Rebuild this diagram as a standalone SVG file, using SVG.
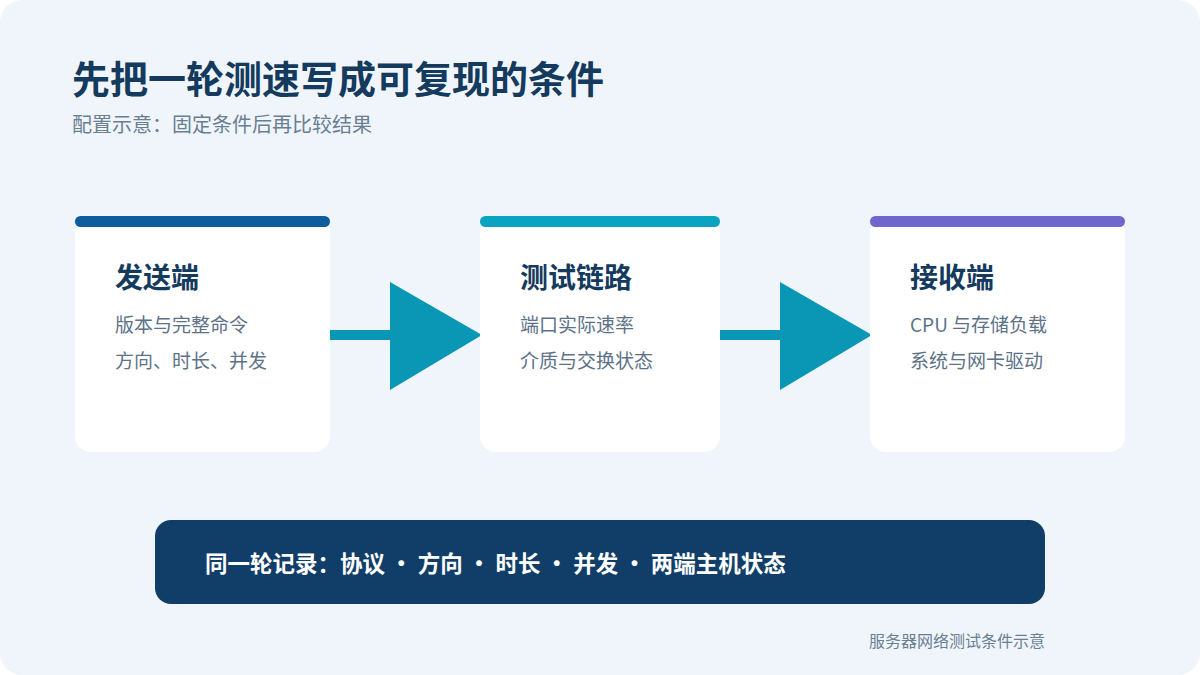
<svg xmlns="http://www.w3.org/2000/svg" width="1200" height="675" viewBox="0 0 1200 675">
<style>
text{font-family:"Noto Sans CJK SC","Noto Sans",sans-serif}
.card{fill:#ffffff}
.h{font-size:28px;font-weight:700;fill:#143a5e}
.b{font-size:19px;fill:#5d7288}
.arr{fill:#0a97b5}
</style>
<rect width="1200" height="675" fill="#ffffff"/>
<rect width="1200" height="675" rx="22" fill="#eff5fb"/>
<text x="72" y="93" font-size="38" font-weight="700" fill="#143a5e">先把一轮测速写成可复现的条件</text>
<text x="72" y="132" font-size="20" fill="#6b7f93">配置示意：固定条件后再比较结果</text>
<g id="connectors">
<rect class="arr" x="328" y="330" width="64" height="10"/>
<polygon class="arr" points="390,282 482,335 390,390"/>
<rect class="arr" x="718" y="330" width="64" height="10"/>
<polygon class="arr" points="780,282 872,335 780,390"/>
</g>
<g id="sender">
<rect class="card" x="75" y="216" width="255" height="236" rx="16"/>
<rect x="75" y="216" width="255" height="11" rx="5.5" fill="#0d5c9b"/>
<text class="h" x="115" y="288">发送端</text>
<text class="b" x="115" y="332">版本与完整命令</text>
<text class="b" x="115" y="368">方向、时长、并发</text>
</g>
<g id="link">
<rect class="card" x="480" y="216" width="240" height="236" rx="16"/>
<rect x="480" y="216" width="240" height="11" rx="5.5" fill="#0aa3c2"/>
<text class="h" x="520" y="288">测试链路</text>
<text class="b" x="520" y="332">端口实际速率</text>
<text class="b" x="520" y="368">介质与交换状态</text>
</g>
<g id="receiver">
<rect class="card" x="870" y="216" width="255" height="236" rx="16"/>
<rect x="870" y="216" width="255" height="11" rx="5.5" fill="#7067cc"/>
<text class="h" x="910" y="288">接收端</text>
<text class="b" x="910" y="332">CPU 与存储负载</text>
<text class="b" x="910" y="368">系统与网卡驱动</text>
</g>
<g id="record">
<rect x="155" y="520" width="890" height="84" rx="16" fill="#113e68"/>
<text x="205" y="572" font-size="22.5" font-weight="700" fill="#ffffff">同一轮记录：协议 · 方向 · 时长 · 并发 · 两端主机状态</text>
</g>
<text x="1045" y="647" text-anchor="end" font-size="16" fill="#6b7f93">服务器网络测试条件示意</text>
</svg>
